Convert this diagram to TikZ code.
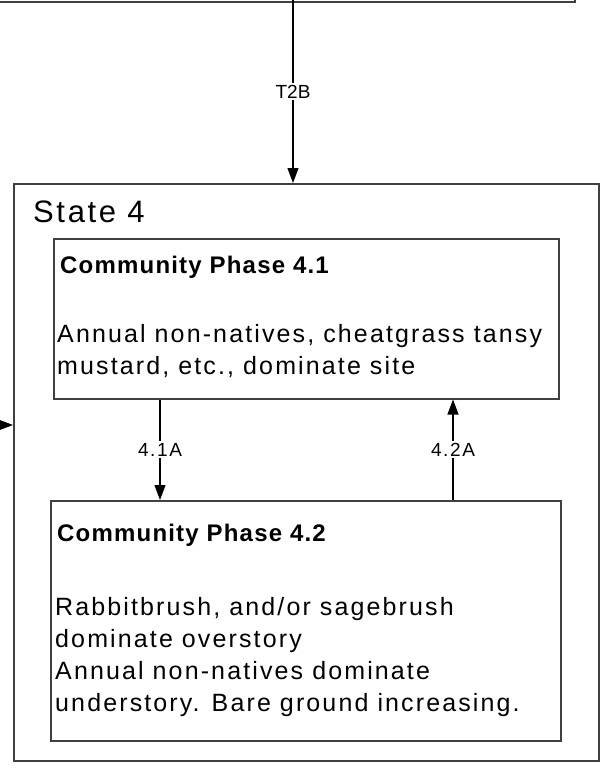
\documentclass[tikz,border=0pt]{standalone}
\usepackage{fontspec}
\setmainfont{Liberation Sans}
\newfontfamily\boxfont[LetterSpace=8.5]{Liberation Sans}
\newfontfamily\headfont[LetterSpace=5]{Liberation Sans}
\usetikzlibrary{arrows.meta}

\tikzset{
  box/.style={draw=black!75, line width=1.5pt, anchor=north west, inner sep=0pt},
  arr/.style={draw=black, line width=1.1pt, -{Triangle[length=15pt,width=11pt]}},
  lbl/.style={fill=white, inner sep=2pt, font=\boxfont\fontsize{19}{22}\selectfont},
  ttl/.style={anchor=base west, inner sep=0pt, font=\headfont\bfseries\fontsize{24}{28}\selectfont},
  txt/.style={anchor=north west, inner sep=0pt, align=left, font=\boxfont\fontsize{25}{32}\selectfont}
}

\begin{document}
\begin{tikzpicture}[x=1pt,y=-1pt]
  \useasboundingbox (0,0) rectangle (605,776);

  % transition box above, only its lower edge shows
  \draw[black!75, line width=1.5pt] (-10,2) -- (575,2) -- (575,-20);

  % state 4 and its two community phases
  \node[box, minimum width=585pt, minimum height=577pt] (s4) at (13,183) {};
  \node[anchor=base west, inner sep=0pt, font=\boxfont\fontsize{31}{36}\selectfont] (s4lbl) at (33,222) {State 4};

  \node[box, minimum width=505pt, minimum height=160pt] (p41) at (53,238) {};
  \node[ttl] (p41t) at (60,273) {Community Phase 4.1};
  \node[txt] (p41b) at (57,324) {Annual non-natives, cheatgrass tansy\\mustard, etc., dominate site};

  \node[box, minimum width=510pt, minimum height=240pt] (p42) at (50,500) {};
  \node[ttl] (p42t) at (57,541) {Community Phase 4.2};
  \node[txt] (p42b) at (55,597) {Rabbitbrush, and/or sagebrush\\dominate overstory\\Annual non-natives dominate\\understory. Bare ground increasing.};

  % transitions
  \coordinate (t2top) at (293,0);
  \draw[arr] (t2top) -- (t2top |- s4.north) node[lbl, midway, font=\fontsize{19}{22}\selectfont] {T2B};

  \coordinate (inleft) at (-2,425);
  \draw[arr] (inleft) -- (inleft -| s4.west);

  \coordinate (a41) at (160,0);
  \draw[arr] (a41 |- p41.south) -- (a41 |- p42.north) node[lbl, midway] {4.1A};

  \coordinate (a42) at (453,0);
  \draw[arr] (a42 |- p42.north) -- (a42 |- p41.south) node[lbl, midway] {4.2A};
\end{tikzpicture}
\end{document}
